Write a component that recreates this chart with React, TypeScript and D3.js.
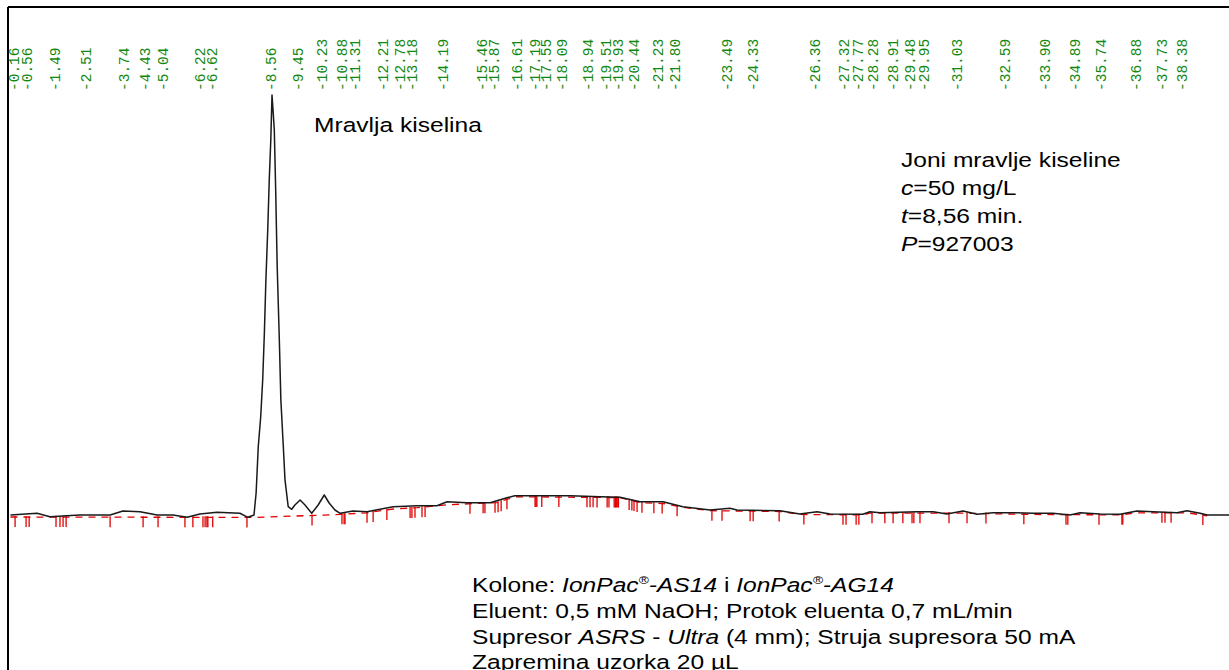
import React from 'react';
import * as d3 from 'd3';

// Chromatogram signal (time in min, response in % of main peak height)
const sigT = [0.00, 0.87, 1.29, 2.27, 3.26, 3.68, 4.24, 4.80, 5.32, 5.78, 6.20, 6.76, 7.51, 7.77, 7.97,
  8.04, 8.11, 8.19, 8.255, 8.31, 8.36, 8.42, 8.47, 8.52, 8.56, 8.60, 8.635, 8.68, 8.73, 8.80, 8.85, 8.93, 8.985,
  9.09, 9.205, 9.31, 9.48, 9.64, 9.86, 10.07, 10.27, 10.43, 10.62, 10.79, 11.21, 11.67, 12.53, 13.31, 13.96,
  14.29, 14.94, 15.70, 15.92, 16.25, 16.51, 17.33, 18.31, 19.30, 19.95, 20.61, 21.36, 22.01, 22.90, 23.55,
  23.78, 25.19, 25.84, 26.40, 26.83, 27.90, 28.13, 28.46, 29.67, 30.20, 30.65, 31.18, 31.64, 32.16, 32.82,
  33.47, 34.12, 34.68, 35.01, 35.66, 36.32, 36.87, 37.40, 38.18, 38.51, 38.94, 39.17, 39.89];
const sigV = [0.47, 0.88, 0.07, 0.47, 0.47, 1.42, 1.26, 0.47, 0.47, -0.07, 0.71, 1.11, 0.88, -0.07, 0.47,
  5.69, 16.66, 23.77, 32.46, 43.6, 56.2, 68.0, 79.9, 89.3, 100, 95.7, 91.7, 77.5, 59.3, 41.9, 27.7, 16.7, 8.8,
  2.44, 1.82, 2.84, 4.03, 2.84, 0.88, 2.84, 5.21, 3.32, 1.66, 0.88, 1.42, 1.26, 2.44, 2.68, 2.68,
  3.63, 3.39, 3.39, 3.86, 4.57, 5.05, 5.05, 5.05, 4.81, 4.67, 3.63, 3.63, 2.44, 1.66, 2.06,
  1.66, 1.49, 0.71, 1.26, 0.71, 0.64, 1.26, 1.02, 1.26, 1.26, 0.71, 1.42, 0.64, 1.02, 1.02,
  0.88, 0.88, 0.47, 1.02, 0.71, 0.64, 1.42, 1.26, 1.02, 1.49, 0.88, 0.47, 0.47];

// Integration baseline
const baseT = [0, 7.97, 9.20, 10.79, 11.67, 12.53, 13.31, 14.29, 15.92, 16.51, 19.95, 20.61, 21.36, 22.01,
  22.90, 25.19, 25.84, 27.90, 28.13, 31.18, 33.47, 36.32, 36.87, 38.51, 39.17];
const baseV = [0.0, -0.1, 0.2, 0.6, 1.0, 1.9, 2.2, 2.9, 3.4, 4.8, 4.6, 3.4, 3.2, 2.3,
  1.5, 1.3, 0.6, 0.5, 0.9, 0.9, 0.6, 0.5, 1.0, 1.0, 0.3];

// Integration event marks (min)
const eventT = [0.15, 0.51, 0.61, 1.49, 1.62, 1.72, 1.82, 3.26, 4.34, 4.83, 5.71, 5.97, 6.30, 6.37, 6.43, 6.46,
  6.62, 7.74, 9.87, 10.85, 10.92, 10.95, 11.67, 11.87, 12.32, 13.08, 13.14, 13.24, 13.47, 13.57, 15.04, 15.47,
  15.53, 15.86, 15.96, 16.06, 16.25, 17.17, 17.20, 17.23, 17.39, 17.95, 18.87, 18.97, 19.07, 19.20, 19.53,
  19.59, 19.76, 19.80, 19.83, 19.86, 19.90, 20.25, 20.34, 20.41, 20.51, 20.67, 21.06, 21.33, 21.82, 22.96,
  23.29, 24.21, 24.31, 25.16, 25.97, 27.25, 27.35, 27.68, 27.77, 28.20, 28.62, 28.89, 29.21, 29.51, 29.57,
  29.77, 30.72, 31.31, 31.93, 33.17, 34.55, 34.61, 35.63, 36.38, 36.41, 37.69, 37.79, 37.99, 39.03];

// Retention time labels
const peakLabels = ['0.16', '0.56', '1.49', '2.51', '3.74', '4.43', '5.04', '6.22', '6.62', '8.56', '9.45',
  '10.23', '10.88', '11.31', '12.21', '12.78', '13.18', '14.19', '15.46', '15.87', '16.61', '17.19', '17.55',
  '18.09', '18.94', '19.51', '19.93', '20.44', '21.23', '21.80', '23.49', '24.33', '26.36', '27.32', '27.77',
  '28.28', '28.91', '29.48', '29.95', '31.03', '32.59', '33.90', '34.89', '35.74', '36.88', '37.73', '38.38'];

const W = 1229;
const H = 670;
const FONT = "'Liberation Sans', Arial, sans-serif";

export default function App() {
  const x = d3.scaleLinear().domain([0, 40]).range([10.5, 10.5 + 40 * 30.55]);
  const y = d3.scaleLinear().domain([0, 100]).range([517, 95]);

  const sig: [number, number][] = sigT.map((t, i) => [t, sigV[i]]);
  const base: [number, number][] = baseT.map((t, i) => [t, baseV[i]]);
  const line = d3.line<[number, number]>().x(d => x(d[0])).y(d => y(d[1]));
  const baseAt = d3.scaleLinear().domain(baseT).range(baseV).clamp(true);

  const txtScale = 'scale(1.26,1)';
  const fs = 19.5;

  return (
    <svg width={W} height={H} style={{ position: 'absolute', left: 0, top: 0, background: '#fff' }}
      xmlns="http://www.w3.org/2000/svg">
      <rect x={0} y={0} width={W} height={H} fill="#fff" />
      {/* frame */}
      <line x1={8} y1={7} x2={W} y2={7} stroke="#000" strokeWidth={2} />
      <line x1={8} y1={7} x2={8} y2={H} stroke="#000" strokeWidth={2} />

      {/* retention labels */}
      <g fill="#118811" fontFamily="'Liberation Mono', 'DejaVu Sans Mono', monospace" fontSize={14.5}>
        {peakLabels.map((l, i) => (
          <text key={i} transform={`translate(${x(+l)},91) rotate(-90)`} textAnchor="start"
            dominantBaseline="central">{'-' + l}</text>
        ))}
      </g>

      {/* integration baseline */}
      <path d={line(base) || ''} fill="none" stroke="#e00000" strokeWidth={1.3} strokeDasharray="7,6" />
      <g stroke="#e00000" strokeWidth={1.3}>
        {eventT.map((t, i) => {
          const yb = y(baseAt(t));
          return <line key={i} x1={x(t)} x2={x(t)} y1={yb - 1} y2={yb + 10} />;
        })}
      </g>

      {/* signal */}
      <path d={line(sig) || ''} fill="none" stroke="#1a1a1a" strokeWidth={1.5} strokeLinejoin="round" />

      {/* annotations */}
      <g fontFamily={FONT} fontSize={fs} fill="#000">
        <g transform={`translate(314,132) ${txtScale}`}>
          <text>Mravlja kiselina</text>
        </g>
        <g transform={`translate(901,167) ${txtScale}`}>
          <text x={0} y={0}>Joni mravlje kiseline</text>
          <text x={0} y={28}><tspan fontStyle="italic">c</tspan>=50 mg/L</text>
          <text x={0} y={56}><tspan fontStyle="italic">t</tspan>=8,56 min.</text>
          <text x={0} y={84}><tspan fontStyle="italic">P</tspan>=927003</text>
        </g>
        <g transform={`translate(472,592) ${txtScale}`}>
          <text x={0} y={0}>Kolone: <tspan fontStyle="italic">IonPac</tspan><tspan fontStyle="italic" fontSize={11} dy={-8}>®</tspan><tspan fontStyle="italic" dy={8}>-AS14</tspan> i <tspan fontStyle="italic">IonPac</tspan><tspan fontStyle="italic" fontSize={11} dy={-8}>®</tspan><tspan fontStyle="italic" dy={8}>-AG14</tspan></text>
          <text x={0} y={26}>Eluent: 0,5 mM NaOH; Protok eluenta 0,7 mL/min</text>
          <text x={0} y={52}>Supresor <tspan fontStyle="italic">ASRS</tspan> - <tspan fontStyle="italic">Ultra</tspan> (4 mm); Struja supresora 50 mA</text>
          <text x={0} y={77}>Zapremina uzorka 20 µL</text>
        </g>
      </g>
    </svg>
  );
}
